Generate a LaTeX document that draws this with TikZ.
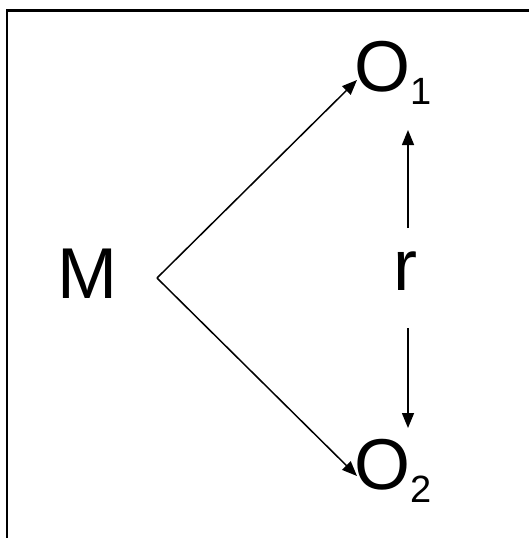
\documentclass[tikz,border=0pt]{standalone}
\usepackage{fontspec}
\setmainfont{Liberation Sans}
\usetikzlibrary{arrows.meta}
\tikzset{
  lbl/.style={inner sep=0pt, font=\fontsize{72}{86}\selectfont},
  conn/.style={line width=1.5pt, -{Triangle[length=15pt,width=12pt]}},
  frameline/.style={line width=2.7pt}
}
\newcommand{\subtxt}[1]{\raisebox{-13pt}{\fontsize{38}{42}\selectfont #1}}
\begin{document}
\begin{tikzpicture}[x=1pt,y=-1pt]
  \useasboundingbox (0,0) rectangle (529,538);
  \fill[white] (0,0) rectangle (529,538);
  % frame (top and left edges visible)
  \draw[frameline] (7,538) -- (7,10.5) -- (529,10.5);
  % labels
  \node[lbl, anchor=base] (M) at (87.5,298) {M};
  \node[lbl, anchor=base west] (O1) at (354.5,91) {O\subtxt{1}};
  \node[lbl, anchor=base west] (O2) at (354.5,489) {O\subtxt{2}};
  \node[lbl, anchor=base] (r) at (405,290) {r};
  % connector points
  \coordinate (v) at (157,278);
  \coordinate (t1) at (357,80);
  \coordinate (t2) at (357,476);
  \coordinate (ua) at (408,228);
  \coordinate (ub) at (408,130);
  \coordinate (da) at (408,328);
  \coordinate (db) at (408,428);
  % connectors
  \draw[conn] (v) -- (t1);
  \draw[conn] (v) -- (t2);
  \draw[conn] (ua) -- (ub);
  \draw[conn] (da) -- (db);
\end{tikzpicture}
\end{document}
